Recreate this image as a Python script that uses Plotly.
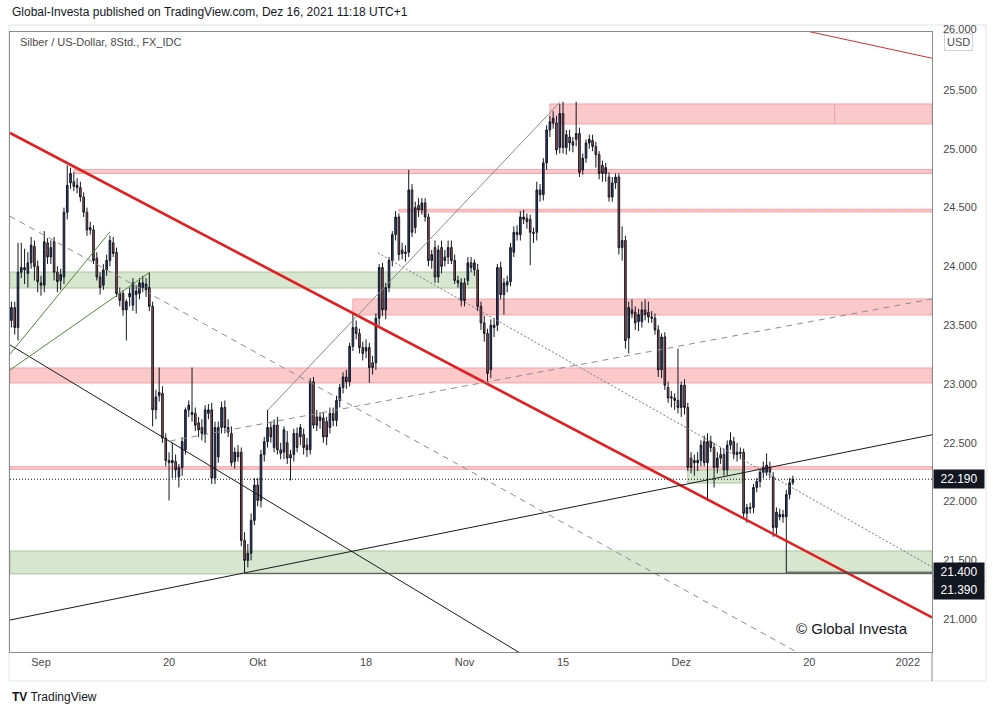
import numpy as np
import pandas as pd
import plotly.graph_objects as go

# ---------------- data (Silber / US-Dollar, 8h bars, FX_IDC) ----------------
first_session = "2021-08-27"
bars_per_session = 3

opens = [
    23.54, 23.65, 23.48, 23.95, 23.99, 23.94, 24.03, 24.17, 24.00, 23.86,
    23.84, 24.20, 24.08, 24.21, 23.95, 23.88, 23.91, 24.46, 24.71, 24.72,
    24.69, 24.67, 24.59, 24.46, 24.31, 24.31, 24.07, 23.91, 23.84, 23.97,
    24.05, 24.20, 24.12, 23.77, 23.77, 23.63, 23.74, 23.67, 23.76, 23.77,
    23.82, 23.80, 23.82, 23.66, 22.78, 22.90, 22.92, 22.54, 22.35, 22.33,
    22.34, 22.21, 22.29, 22.44, 22.78, 22.76, 22.75, 22.67, 22.63, 22.57,
    22.75, 22.78, 22.20, 22.38, 22.63, 22.80, 22.59, 22.58, 22.34, 22.42,
    22.42, 21.67, 21.50, 21.56, 21.84, 22.14, 22.01, 22.40, 22.51, 22.63,
    22.46, 22.65, 22.44, 22.42, 22.50, 22.40, 22.40, 22.58, 22.55, 22.57,
    22.48, 22.44, 23.02, 22.72, 22.69, 22.71, 22.68, 22.63, 22.75, 22.69,
    22.86, 22.97, 23.06, 23.02, 23.32, 23.48, 23.43, 23.31, 23.28, 23.31,
    23.18, 23.18, 23.56, 23.99, 23.63, 23.82, 24.05, 24.27, 24.42, 24.14,
    24.11, 24.12, 24.65, 24.33, 24.52, 24.48, 24.54, 24.42, 24.05, 24.16,
    23.91, 24.16, 24.08, 24.08, 24.16, 24.05, 23.88, 23.71, 23.86, 23.88,
    24.03, 23.97, 23.97, 23.66, 23.52, 23.43, 23.12, 23.48, 23.50, 23.99,
    23.76, 23.84, 23.87, 24.12, 24.29, 24.27, 24.42, 24.41, 24.40, 24.29,
    24.29, 24.65, 24.61, 24.88, 25.16, 25.22, 25.22, 25.01, 25.30, 25.01,
    25.10, 25.06, 25.08, 25.13, 24.82, 24.92, 25.05, 25.07, 25.02, 24.95,
    24.86, 24.79, 24.76, 24.59, 24.71, 24.76, 24.16, 24.22, 23.39, 23.63,
    23.61, 23.53, 23.53, 23.63, 23.61, 23.57, 23.56, 23.46, 23.12, 23.40,
    22.97, 22.88, 22.88, 22.86, 22.80, 22.99, 22.80, 22.37, 22.33, 22.33,
    22.35, 22.51, 22.33, 22.51, 22.46, 22.29, 22.40, 22.40, 22.27, 22.48,
    22.51, 22.40, 22.42, 22.42, 21.90, 21.94, 21.95, 22.12, 22.17, 22.25,
    22.25, 22.29, 22.21, 21.78, 21.89, 21.89, 21.87, 22.06, 22.16,
]
highs = [
    23.70, 23.70, 24.20, 24.20, 24.15, 24.12, 24.25, 24.22, 24.05, 23.92,
    24.30, 24.24, 24.22, 24.25, 24.00, 23.98, 24.50, 24.86, 24.84, 24.80,
    24.75, 24.72, 24.63, 24.50, 24.38, 24.35, 24.12, 23.95, 24.02, 24.10,
    24.26, 24.25, 24.16, 23.82, 23.80, 23.72, 23.82, 23.90, 23.84, 23.90,
    23.92, 23.90, 23.95, 23.70, 22.95, 23.14, 22.98, 22.58, 22.42, 22.50,
    22.40, 22.32, 22.55, 22.80, 22.86, 23.14, 22.80, 22.72, 22.70, 22.82,
    22.83, 22.84, 22.68, 22.68, 22.85, 22.86, 22.70, 22.64, 22.46, 22.48,
    22.46, 21.74, 21.64, 21.90, 22.20, 22.20, 22.44, 22.55, 22.78, 22.68,
    22.70, 22.72, 22.50, 22.64, 22.60, 22.44, 22.62, 22.63, 22.66, 22.62,
    22.54, 23.05, 23.06, 22.78, 22.76, 22.76, 22.72, 22.80, 22.80, 22.90,
    23.00, 23.10, 23.12, 23.35, 23.60, 23.54, 23.47, 23.36, 23.38, 23.35,
    23.24, 23.60, 24.02, 24.03, 23.86, 24.08, 24.30, 24.47, 24.45, 24.20,
    24.18, 24.82, 24.70, 24.55, 24.58, 24.58, 24.58, 24.45, 24.14, 24.22,
    24.18, 24.22, 24.14, 24.22, 24.22, 24.10, 23.92, 23.90, 23.90, 24.08,
    24.08, 24.06, 24.02, 23.70, 23.58, 23.47, 23.55, 23.56, 24.02, 24.04,
    23.90, 23.92, 24.20, 24.34, 24.35, 24.47, 24.48, 24.45, 24.44, 24.33,
    24.72, 24.70, 24.92, 25.20, 25.28, 25.32, 25.28, 25.38, 25.40, 25.16,
    25.16, 25.10, 25.40, 25.18, 24.96, 25.08, 25.12, 25.12, 25.06, 24.98,
    24.90, 24.88, 24.80, 24.76, 24.79, 24.79, 24.34, 24.26, 23.70, 23.72,
    23.66, 23.64, 23.70, 23.72, 23.70, 23.62, 23.60, 23.50, 23.43, 23.44,
    23.02, 22.94, 22.92, 23.30, 23.02, 23.04, 22.84, 22.42, 22.40, 22.42,
    22.52, 22.56, 22.58, 22.56, 22.50, 22.42, 22.46, 22.45, 22.52, 22.59,
    22.55, 22.50, 22.46, 22.45, 21.98, 21.99, 22.15, 22.20, 22.28, 22.34,
    22.41, 22.34, 22.25, 21.95, 21.94, 21.93, 22.10, 22.20, 22.22,
]
lows = [
    23.48, 23.42, 23.37, 23.90, 23.85, 23.82, 23.98, 23.88, 23.78, 23.75,
    23.78, 24.02, 24.02, 23.88, 23.78, 23.80, 23.85, 24.40, 24.66, 24.64,
    24.62, 24.55, 24.42, 24.26, 24.27, 24.02, 23.88, 23.76, 23.80, 23.92,
    24.00, 24.08, 23.74, 23.66, 23.58, 23.37, 23.66, 23.62, 23.60, 23.72,
    23.78, 23.74, 23.62, 22.64, 22.70, 22.85, 22.50, 22.30, 22.01, 22.20,
    22.20, 22.12, 22.22, 22.40, 22.72, 22.68, 22.60, 22.55, 22.52, 22.50,
    22.70, 22.15, 22.15, 22.33, 22.58, 22.58, 22.55, 22.30, 22.28, 22.34,
    21.62, 21.39, 21.44, 21.50, 21.80, 21.96, 21.95, 22.34, 22.46, 22.50,
    22.42, 22.40, 22.36, 22.36, 22.32, 22.18, 22.34, 22.42, 22.48, 22.40,
    22.38, 22.40, 22.62, 22.60, 22.62, 22.50, 22.48, 22.58, 22.64, 22.64,
    22.80, 22.92, 22.96, 22.98, 23.28, 23.38, 23.26, 23.20, 23.22, 23.01,
    23.08, 23.12, 23.50, 23.58, 23.55, 23.78, 24.00, 24.22, 24.05, 24.06,
    24.04, 24.08, 24.25, 24.28, 24.42, 24.44, 24.38, 24.00, 23.98, 23.86,
    23.86, 23.94, 24.00, 24.02, 24.02, 23.85, 23.82, 23.66, 23.66, 23.84,
    23.95, 23.92, 23.62, 23.46, 23.36, 23.02, 23.05, 23.40, 23.45, 23.72,
    23.59, 23.78, 23.83, 24.08, 24.22, 24.22, 24.36, 24.32, 24.01, 24.20,
    24.22, 24.55, 24.56, 24.82, 25.10, 25.17, 24.95, 24.96, 24.96, 24.95,
    24.98, 24.97, 25.02, 24.76, 24.78, 24.88, 25.00, 24.98, 24.84, 24.74,
    24.72, 24.72, 24.55, 24.55, 24.66, 24.10, 24.05, 23.30, 23.26, 23.56,
    23.46, 23.45, 23.48, 23.54, 23.52, 23.52, 23.42, 23.06, 23.05, 22.95,
    22.84, 22.80, 22.78, 22.75, 22.72, 22.74, 22.26, 22.24, 22.22, 22.26,
    22.30, 22.30, 22.01, 22.42, 22.12, 22.24, 22.32, 22.22, 22.22, 22.44,
    22.36, 22.34, 22.36, 21.86, 21.82, 21.90, 21.90, 22.08, 22.12, 22.20,
    22.22, 22.20, 21.70, 21.72, 21.84, 21.82, 21.39, 22.02, 22.14,
]
closes = [
    23.65, 23.48, 23.95, 23.99, 23.97, 24.03, 24.18, 24.00, 23.87, 23.84,
    24.21, 24.08, 24.16, 23.95, 23.87, 23.93, 24.46, 24.69, 24.79, 24.68,
    24.67, 24.59, 24.46, 24.31, 24.33, 24.05, 23.91, 23.82, 23.97, 24.05,
    24.22, 24.11, 23.77, 23.71, 23.63, 23.70, 23.77, 23.86, 23.79, 23.86,
    23.86, 23.85, 23.66, 22.78, 22.89, 22.93, 22.54, 22.35, 22.33, 22.35,
    22.27, 22.29, 22.51, 22.78, 22.82, 22.74, 22.65, 22.61, 22.58, 22.78,
    22.78, 22.20, 22.63, 22.63, 22.80, 22.63, 22.63, 22.33, 22.42, 22.38,
    21.67, 21.50, 21.56, 21.84, 22.14, 22.01, 22.40, 22.51, 22.63, 22.55,
    22.65, 22.44, 22.41, 22.61, 22.37, 22.37, 22.58, 22.46, 22.63, 22.46,
    22.44, 23.02, 22.65, 22.65, 22.72, 22.55, 22.55, 22.75, 22.69, 22.86,
    22.97, 23.06, 23.02, 23.32, 23.48, 23.43, 23.31, 23.26, 23.31, 23.14,
    23.14, 23.56, 23.99, 23.63, 23.82, 24.05, 24.27, 24.42, 24.10, 24.11,
    24.12, 24.65, 24.29, 24.50, 24.48, 24.54, 24.42, 24.05, 24.10, 23.91,
    24.14, 24.00, 24.05, 24.16, 24.05, 23.88, 23.86, 23.86, 23.71, 24.03,
    23.99, 24.03, 23.66, 23.52, 23.43, 23.09, 23.50, 23.50, 23.99, 23.76,
    23.86, 23.87, 24.16, 24.29, 24.27, 24.42, 24.40, 24.38, 24.29, 24.28,
    24.65, 24.61, 24.88, 25.16, 25.23, 25.26, 24.99, 25.30, 25.01, 25.12,
    25.05, 25.03, 25.13, 24.80, 24.92, 25.05, 25.08, 25.02, 24.95, 24.79,
    24.79, 24.84, 24.59, 24.71, 24.76, 24.16, 24.22, 23.37, 23.65, 23.60,
    23.52, 23.59, 23.63, 23.59, 23.57, 23.56, 23.46, 23.12, 23.40, 22.99,
    22.88, 22.89, 22.86, 22.80, 22.99, 22.80, 22.29, 22.29, 22.35, 22.35,
    22.48, 22.33, 22.51, 22.46, 22.29, 22.37, 22.37, 22.27, 22.48, 22.52,
    22.40, 22.42, 22.41, 21.90, 21.95, 21.95, 22.12, 22.17, 22.25, 22.29,
    22.31, 22.25, 21.78, 21.91, 21.87, 21.87, 22.06, 22.16, 22.19,
]

# axis labels
tick_dates = ["2021-09-01", "2021-09-20", "2021-10-01", "2021-10-18", "2021-11-01",
              "2021-11-15", "2021-12-01", "2021-12-20", "2022-01-03"]
tick_texts = ["Sep", "20", "Okt", "18", "Nov", "15", "Dez", "20", "2022"]
price_ticks = [21.0, 21.5, 22.0, 22.5, 23.0, 23.5, 24.0, 24.5, 25.0, 25.5]

view_start = "2021-08-26 20:30"
view_end = "2022-01-05 11:00"
price_low, price_high = 20.721, 25.993

# drawn zones: start, end, upper price, lower price, kind
zone_start = ["2021-11-11 16:00", "2021-12-22 14:00", "2021-09-06 08:00", "2021-10-21 08:00",
              "2021-10-14 16:00", view_start, view_start, view_start, view_start, "2021-12-01 16:00"]
zone_end = ["2021-12-22 14:00", view_end, view_end, view_end, view_end, view_end, view_end,
            "2021-11-02 06:00", view_end, "2021-12-09 04:00"]
zone_top = [25.381, 25.381, 24.824, 24.485, 23.723, 23.136, 22.297, 23.952, 21.580, 22.269]
zone_bottom = [25.211, 25.211, 24.790, 24.463, 23.587, 23.009, 22.275, 23.816, 21.385, 22.158]
zone_kind = ["res", "res", "res", "res", "res", "res", "res", "sup", "sup", "sup"]

# drawn trend lines: start, start price, end, end price, kind
line_start = [view_start, "2021-12-15 01:00", view_start, view_start, view_start,
              "2021-09-20 02:00", "2021-10-19 05:00", "2021-10-04 01:00", view_start, view_start,
              "2021-09-29 16:00", "2021-12-15 16:00"]
line_p0 = [25.134, 26.050, 20.993, 23.332, 24.426, 22.515, 24.114, 22.779, 23.255, 23.119, 21.390, 21.400]
line_end = [view_end, view_end, view_end, "2021-11-09 15:00", "2021-12-17 02:00", view_end, view_end,
            "2021-11-12 17:00", "2021-09-10 00:00", "2021-09-16 02:00", view_end, view_end]
line_p1 = [21.015, 25.770, 22.568, 20.662, 20.704, 23.723, 21.444, 25.398, 24.293, 23.952, 21.390, 21.400]
line_kind = ["main", "thinred", "black", "black", "dash", "dash", "dot", "gray", "green", "green",
             "level", "level"]

last_price = 22.19
price_flags = [22.19, 21.40, 21.39]


# ---------------- figure ----------------
def bar_time(i):
    d = int(np.floor(i / bars_per_session))
    frac = i / bars_per_session - d
    day = pd.Timestamp(first_session) + pd.offsets.BDay(d)
    return day + pd.Timedelta(hours=24 * frac)


times = [bar_time(i) for i in range(len(closes))]

W, H = 996, 715
ML, MR, MT, MB = 10, 64, 32, 63
PW, PH = W - ML - MR, H - MT - MB


def px(x):
    return (x - ML) / PW


def py(y):
    return (H - MB - y) / PH


FONT = "Liberation Sans, Arial, sans-serif"

fig = go.Figure()
fig.add_trace(go.Candlestick(
    x=times, open=opens, high=highs, low=lows, close=closes,
    increasing=dict(line=dict(color="#131722", width=1), fillcolor="#2c3f80"),
    decreasing=dict(line=dict(color="#131722", width=1), fillcolor="#b4544c"),
    whiskerwidth=0, showlegend=False, hoverinfo="skip",
))

zone_style = {
    "res": dict(fill="#fcc9cb", line="#f3a3a6"),
    "sup": dict(fill="#d6e6cf", line="#aac79c"),
}
shapes = []
for s, e, t, b, k in zip(zone_start, zone_end, zone_top, zone_bottom, zone_kind):
    st = zone_style[k]
    shapes.append(dict(type="rect", xref="x", yref="y", x0=s, x1=e, y0=b, y1=t,
                       fillcolor=st["fill"], line=dict(color=st["line"], width=1), layer="below"))

line_style = {
    "main": dict(color="#e31e1e", width=2.6, dash="solid"),
    "thinred": dict(color="#d32f2f", width=1, dash="solid"),
    "black": dict(color="#1a1a1a", width=1, dash="solid"),
    "dash": dict(color="#8c8c8c", width=1, dash="6px,5px"),
    "dot": dict(color="#777777", width=1, dash="2px,2px"),
    "gray": dict(color="#8a8a8a", width=1, dash="solid"),
    "green": dict(color="#4e8a3c", width=1, dash="solid"),
    "level": dict(color="#4a4a4a", width=1, dash="solid"),
}
for s, p0, e, p1, k in zip(line_start, line_p0, line_end, line_p1, line_kind):
    shapes.append(dict(type="line", xref="x", yref="y", x0=s, y0=p0, x1=e, y1=p1,
                       line=line_style[k], layer="above"))

# last price dotted line
shapes.append(dict(type="line", xref="x", yref="y", x0=view_start, x1=view_end,
                   y0=last_price, y1=last_price, line=dict(color="#131722", width=1, dash="1px,2px"),
                   layer="above"))

# outer widget frame and separators
shapes.append(dict(type="rect", xref="paper", yref="paper", x0=px(9), x1=px(986), y0=py(681), y1=py(25),
                   line=dict(color="#e0e3eb", width=1), fillcolor="rgba(0,0,0,0)", layer="below"))
shapes.append(dict(type="line", xref="paper", yref="paper", x0=1, x1=1, y0=0, y1=py(681),
                   line=dict(color="#8a8a8a", width=1)))

annotations = [
    dict(text="Global-Investa published on TradingView.com, Dez 16, 2021 11:18 UTC+1",
         xref="paper", yref="paper", x=px(10), y=py(12), xanchor="left", yanchor="middle",
         showarrow=False, font=dict(family=FONT, size=12, color="#131722")),
    dict(text="Silber / US-Dollar, 8Std., FX_IDC",
         xref="paper", yref="paper", x=px(18), y=py(42), xanchor="left", yanchor="middle",
         showarrow=False, font=dict(family=FONT, size=11, color="#4a4a4a")),
    dict(text="© Global Investa", xref="paper", yref="paper", x=px(910), y=py(628),
         xanchor="right", yanchor="middle", showarrow=False,
         font=dict(family=FONT, size=15, color="#131722")),
    dict(text="<b>TV</b> TradingView", xref="paper", yref="paper", x=px(10), y=py(697),
         xanchor="left", yanchor="middle", showarrow=False,
         font=dict(family=FONT, size=12, color="#131722")),
    dict(text="26.000", xref="paper", yref="paper", x=px(941), y=py(29), xanchor="left",
         yanchor="middle", showarrow=False, font=dict(family=FONT, size=11, color="#4a4a4a")),
    dict(text="USD", xref="paper", yref="paper", x=px(959), y=py(42), xanchor="center",
         yanchor="middle", showarrow=False, bgcolor="white", bordercolor="#d1d4dc",
         borderwidth=1, borderpad=2, font=dict(family=FONT, size=11, color="#4a4a4a")),
]
for i, p in enumerate(price_flags):
    shift = -18 if i == 2 else 0
    yval = price_flags[1] if i == 2 else p
    annotations.append(dict(text=f"{p:.3f}", xref="paper", yref="y", x=1, y=yval, xshift=1,
                            yshift=shift, xanchor="left", yanchor="middle", showarrow=False,
                            bgcolor="#131722", width=46, height=14, borderpad=2, align="center",
                            font=dict(family=FONT, size=12, color="white")))

fig.update_layout(
    width=W, height=H,
    margin=dict(l=ML, r=MR, t=MT, b=MB),
    paper_bgcolor="white", plot_bgcolor="white",
    shapes=shapes, annotations=annotations,
    showlegend=False,
    xaxis=dict(
        type="date", range=[view_start, view_end],
        rangebreaks=[dict(bounds=["sat", "mon"])],
        rangeslider=dict(visible=False),
        tickvals=tick_dates, ticktext=tick_texts, ticks="",
        showgrid=False, zeroline=False,
        showline=True, mirror=True, linecolor="#8a8a8a", linewidth=1,
        tickfont=dict(family=FONT, size=11, color="#4a4a4a"),
    ),
    yaxis=dict(
        side="right", range=[price_low, price_high],
        tickvals=price_ticks, tickformat=".3f", ticks="",
        showgrid=False, zeroline=False,
        showline=True, mirror=True, linecolor="#8a8a8a", linewidth=1,
        ticklabelstandoff=8,
        tickfont=dict(family=FONT, size=11, color="#4a4a4a"),
    ),
)

fig.write_html("out.html")
